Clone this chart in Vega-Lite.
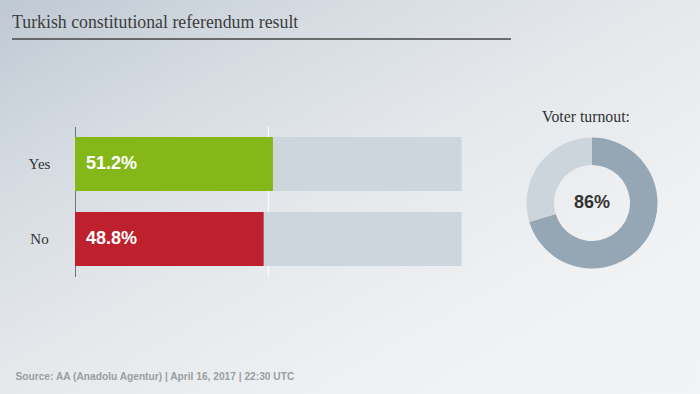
{
  "$schema": "https://vega.github.io/schema/vega-lite/v6.json",
  "width": 700,
  "height": 394,
  "autosize": {"type": "fit", "contains": "padding"},
  "padding": 0,
  "background": "#e6e9ec",
  "view": {
    "stroke": null,
    "fill": {
      "gradient": "linear",
      "x1": 0, "y1": 0, "x2": 1, "y2": 1,
      "stops": [
        {"offset": 0, "color": "#bfc9d3"},
        {"offset": 0.25, "color": "#d6dce2"},
        {"offset": 0.5, "color": "#e6e9ec"},
        {"offset": 0.75, "color": "#eff1f3"},
        {"offset": 1, "color": "#f2f3f5"}
      ]
    }
  },
  "title": {
    "text": "Turkish constitutional referendum result",
    "anchor": "start",
    "frame": "group",
    "orient": "top",
    "offset": -46,
    "dx": 12,
    "baseline": "alphabetic",
    "font": "Liberation Serif",
    "fontSize": 17.8,
    "fontWeight": "normal",
    "color": "#3d3d3d"
  },
  "datasets": {
    "result": [
      {"answer": "Yes", "share": 51.2, "full": 100, "label": "51.2%"},
      {"answer": "No", "share": 48.8, "full": 100, "label": "48.8%"}
    ],
    "turnout": [
      {"metric": "Voter turnout", "part": "turnout", "value": 70.3, "order": 1},
      {"metric": "Voter turnout", "part": "rest", "value": 29.7, "order": 2}
    ],
    "turnoutLabel": [
      {"metric": "Voter turnout", "heading": "Voter turnout:", "label": "86%"}
    ]
  },
  "layer": [
    {
      "layer": [
        {
          "data": {"values": [{"pct": 50, "lo": 0, "hi": 1}]},
          "mark": {"type": "rule", "color": "#ffffff", "strokeWidth": 1},
          "encoding": {
            "x": {"field": "pct", "type": "quantitative"},
            "y": {"field": "lo", "type": "quantitative", "scale": {"domain": [0, 1], "range": [126.5, 276.5]}, "axis": null},
            "y2": {"field": "hi"}
          }
        },
        {
          "data": {"name": "result"},
          "encoding": {
            "y": {
              "field": "answer",
              "type": "nominal",
              "sort": ["Yes", "No"],
              "scale": {"range": [126.5, 276.5], "paddingInner": 0.28, "paddingOuter": 0.14},
              "axis": {
                "orient": "left",
                "offset": -75,
                "title": null,
                "domainColor": "#6b7681",
                "domainWidth": 1,
                "ticks": false,
                "labelAlign": "center",
                "labelBaseline": "middle",
                "labelPadding": 36,
                "labelFont": "Liberation Serif",
                "labelFontSize": 15,
                "labelColor": "#333333"
              }
            }
          },
          "layer": [
            {
              "mark": {"type": "bar", "color": "#cdd5dd"},
              "encoding": {
                "x": {"field": "full", "type": "quantitative"}
              }
            },
            {
              "mark": {"type": "bar"},
              "encoding": {
                "x": {
                  "field": "share",
                  "type": "quantitative",
                  "scale": {"domain": [0, 100], "range": [75, 461.6], "nice": false},
                  "axis": {
                    "orient": "bottom",
                    "domain": false,
                    "ticks": false,
                    "labels": false,
                    "grid": false,
                    "title": "Source: AA (Anadolu Agentur) | April 16, 2017 | 22:30 UTC",
                    "titleX": 15,
                    "titleY": -15,
                    "titleAlign": "left",
                    "titleAnchor": "start",
                    "titleBaseline": "alphabetic",
                    "titleFont": "Liberation Sans",
                    "titleFontSize": 10.2,
                    "titleFontWeight": "bold",
                    "titleColor": "#9a9da1"
                  }
                },
                "color": {
                  "field": "answer",
                  "type": "nominal",
                  "scale": {"domain": ["Yes", "No"], "range": ["#84b819", "#be202e"]},
                  "legend": null
                }
              }
            },
            {
              "mark": {"type": "text", "align": "left", "baseline": "middle", "dx": 11, "font": "Liberation Sans", "fontSize": 18, "fontWeight": "bold", "color": "#ffffff"},
              "encoding": {
                "x": {"datum": 0, "type": "quantitative"},
                "text": {"field": "label"}
              }
            }
          ]
        }
      ],
      "resolve": {"scale": {"y": "independent"}}
    },
    {
      "encoding": {
        "x": {"field": "metric", "type": "nominal", "scale": {"type": "point", "range": [592, 592]}, "axis": null},
        "y": {"field": "metric", "type": "nominal", "scale": {"type": "point", "range": [203, 203]}, "axis": null}
      },
      "layer": [
        {
          "data": {"name": "turnout"},
          "mark": {"type": "arc", "innerRadius": 38, "outerRadius": 65.5},
          "encoding": {
            "theta": {"field": "value", "type": "quantitative", "stack": true},
            "order": {"field": "order", "type": "quantitative"},
            "color": {
              "field": "part",
              "type": "nominal",
              "scale": {"domain": ["turnout", "rest"], "range": ["#95a6b4", "#ccd4dc"]},
              "legend": null
            }
          }
        },
        {
          "data": {"name": "turnoutLabel"},
          "mark": {"type": "text", "align": "center", "baseline": "middle", "font": "Liberation Sans", "fontSize": 18, "fontWeight": "bold", "color": "#333333"},
          "encoding": {"text": {"field": "label"}}
        },
        {
          "data": {"name": "turnoutLabel"},
          "mark": {"type": "text", "align": "center", "baseline": "alphabetic", "dx": -6, "dy": -81, "font": "Liberation Serif", "fontSize": 15.8, "color": "#333333"},
          "encoding": {"text": {"field": "heading"}}
        }
      ]
    },
    {
      "data": {"values": [{"item": "title underline", "from": 0, "to": 1}]},
      "mark": {"type": "rule", "color": "#444444", "strokeWidth": 1.5},
      "encoding": {
        "x": {"field": "from", "type": "quantitative", "scale": {"domain": [0, 1], "range": [12, 511]}, "axis": null},
        "x2": {"field": "to"},
        "y": {"field": "item", "type": "nominal", "scale": {"type": "point", "range": [39, 39]}, "axis": null}
      }
    }
  ],
  "resolve": {"scale": {"x": "independent", "y": "independent", "color": "independent"}}
}
